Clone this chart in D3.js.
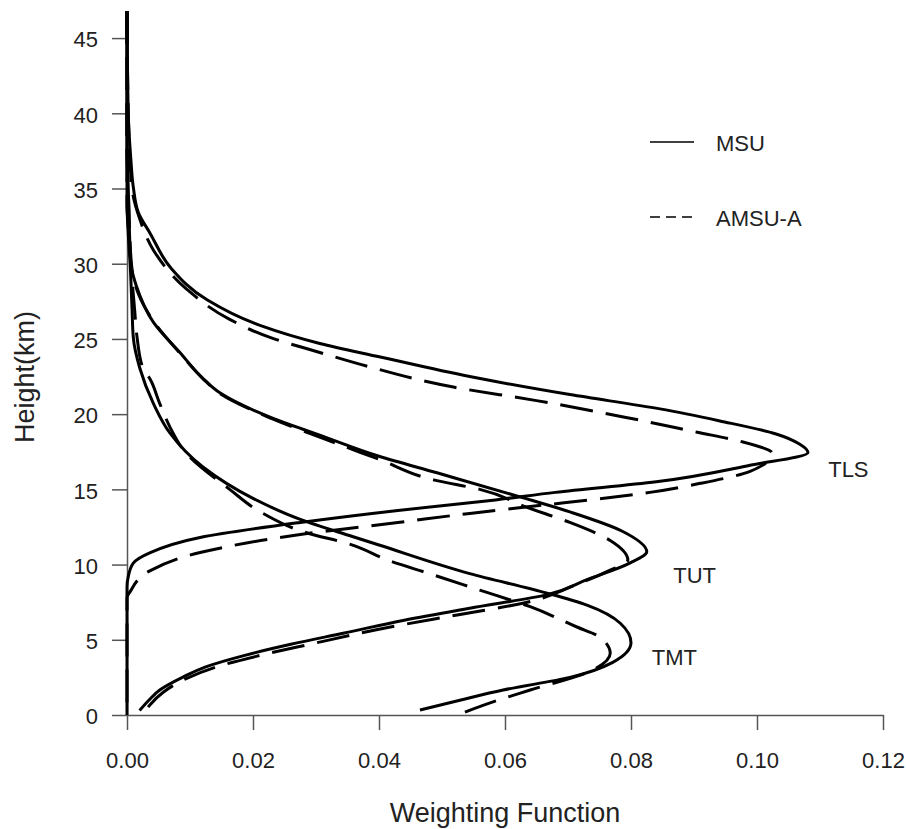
<!DOCTYPE html>
<html>
<head>
<meta charset="utf-8">
<script src="https://cdn.jsdelivr.net/npm/d3@7"></script>
<style>
  html, body { margin: 0; padding: 0; background: #fff; }
  svg { display: block; font-family: "Liberation Sans", Arial, sans-serif; }
</style>
</head>
<body>
<svg id="chart" width="906" height="829"></svg>
<script>
// ---- Data (weighting function vs height, km) ----
const xTicks = [0, 0.02, 0.04, 0.06, 0.08, 0.10, 0.12];
const xTickLabels = ["0.00", "0.02", "0.04", "0.06", "0.08", "0.10", "0.12"];
const yTicks = [0, 5, 10, 15, 20, 25, 30, 35, 40, 45];

const tlsMsuHeight = [46.8, 40, 37, 35.1, 33.4, 32.0, 29.7, 27.6, 25.9, 24.7, 23.8, 22.5, 21.3, 20.35, 19.55, 18.7, 18.0, 17.45, 16.6, 15.5, 14.8, 14.3, 13.6, 12.8, 11.8, 10.8, 10.1, 9.2, 8.5, 0];
const tlsMsuWeight = [0, 0.0002, 0.0006, 0.001, 0.0018, 0.0037, 0.007, 0.0127, 0.0211, 0.0306, 0.0402, 0.0544, 0.0703, 0.0846, 0.0941, 0.1029, 0.1068, 0.1081, 0.0989, 0.084, 0.068, 0.0585, 0.043, 0.0275, 0.0116, 0.0037, 0.001, 0.0002, 0, 0];

const tlsAmsuHeight = [46.8, 40, 35, 33, 30.9, 28.3, 26.3, 25.1, 24.1, 23.2, 21.8, 20.9, 19.8, 18.8, 18.2, 17.4, 16.2, 15.4, 14.8, 14.3, 14.0, 13.4, 12.8, 12.0, 10.8, 9.6, 8.2, 7.8, 0];
const tlsAmsuWeight = [0, 0.0002, 0.0008, 0.002, 0.0042, 0.0095, 0.0163, 0.0227, 0.0306, 0.038, 0.0518, 0.065, 0.079, 0.0905, 0.0973, 0.1024, 0.0989, 0.091, 0.083, 0.0735, 0.0671, 0.0544, 0.043, 0.0275, 0.0116, 0.0037, 0.0005, 0, 0];

const tutMsuHeight = [46.8, 38, 35, 32, 30.0, 28.5, 26.1, 24.1, 22.4, 21.4, 19.8, 18.6, 17.2, 16.1, 14.5, 13.5, 12.2, 10.85, 10.1, 9.0, 8.0, 7.1, 6.3, 5.45, 4.7, 4.0, 3.2, 2.5, 1.66, 1.0, 0.3];
const tutMsuWeight = [0, 0, 0.0002, 0.0004, 0.0006, 0.0015, 0.0042, 0.0084, 0.012, 0.0148, 0.0227, 0.0306, 0.040, 0.0492, 0.0624, 0.0703, 0.0787, 0.0825, 0.0798, 0.073, 0.0667, 0.0544, 0.044, 0.0345, 0.026, 0.019, 0.0125, 0.0088, 0.0052, 0.0035, 0.002];

const tutAmsuHeight = [46.8, 38, 35, 30, 28, 26, 24, 22.3, 21.3, 19.7, 18.4, 17.0, 15.6, 15.0, 13.8, 12.8, 11.6, 10.3, 9.5, 8.7, 7.45, 6.65, 5.85, 4.7, 3.9, 3.2, 2.4, 1.5, 0.7, 0];
const tutAmsuWeight = [0, 0, 0.0002, 0.0007, 0.0018, 0.0045, 0.0085, 0.0122, 0.015, 0.023, 0.031, 0.040, 0.049, 0.056, 0.0635, 0.0703, 0.0767, 0.0795, 0.076, 0.0715, 0.063, 0.0524, 0.0418, 0.029, 0.0205, 0.0142, 0.0093, 0.0057, 0.0037, 0.0025];

const tmtMsuHeight = [46.8, 34, 32, 30, 27, 25.1, 23.1, 20.7, 18.75, 16.5, 14.4, 13.0, 11.85, 11.3, 9.4, 8.1, 7.3, 6.1, 4.8, 3.5, 2.5, 1.66, 1.0, 0.33];
const tmtMsuWeight = [0, 0, 0.0002, 0.0005, 0.0008, 0.001, 0.002, 0.0042, 0.0068, 0.012, 0.020, 0.0275, 0.0359, 0.040, 0.0544, 0.0667, 0.073, 0.0783, 0.080, 0.0771, 0.0703, 0.0597, 0.053, 0.0465];

const tmtAmsuHeight = [46.8, 34, 32, 30, 27, 25.1, 23.1, 22.3, 20.7, 18.75, 17.6, 15.0, 13.4, 12.1, 11.4, 10.2, 9.4, 8.3, 7.2, 5.85, 5.2, 4.1, 3.0, 1.66, 1.0, 0];
const tmtAmsuWeight = [0, 0, 0.0003, 0.0006, 0.0012, 0.0016, 0.0025, 0.0037, 0.0052, 0.0073, 0.009, 0.0163, 0.0216, 0.0286, 0.035, 0.042, 0.048, 0.056, 0.064, 0.0714, 0.075, 0.0767, 0.074, 0.064, 0.059, 0.0524];

const seriesNames = ["MSU", "AMSU-A"];
const channelLabels = ["TLS", "TUT", "TMT"];
const channelLabelHeights = [15.8, 8.8, 3.3];
const channelLabelWeights = [0.1113, 0.0867, 0.0833];

// ---- Layout ----
const svg = d3.select("#chart");
svg.append("rect").attr("width", 906).attr("height", 829).attr("fill", "#fff");

const x = d3.scaleLinear().domain([0, 0.12]).range([127, 883]);
const y = d3.scaleLinear().domain([0, 47]).range([715, 8]);

const axisColor = "#555";
const textColor = "#222";

// X axis
const gx = svg.append("g").attr("transform", `translate(0,${y(0)})`)
  .call(d3.axisBottom(x).tickValues(xTicks).tickFormat((d, i) => xTickLabels[i]).tickSize(15).tickSizeOuter(0));
gx.select(".domain").attr("stroke", axisColor).attr("stroke-width", 1.5);
gx.selectAll(".tick line").attr("stroke", axisColor).attr("stroke-width", 1.5);
gx.selectAll(".tick text").attr("y", 53).attr("dy", null)
  .attr("font-size", 22).attr("fill", textColor).attr("font-family", "Liberation Sans, Arial, sans-serif");

// Y axis
const gy = svg.append("g").attr("transform", `translate(${x(0)},0)`)
  .call(d3.axisLeft(y.copy().domain([0, 45]).range([y(0), y(45)])).tickValues(yTicks).tickSize(15).tickSizeOuter(0));
gy.select(".domain").attr("stroke", axisColor).attr("stroke-width", 1.5);
gy.selectAll(".tick line").attr("stroke", axisColor).attr("stroke-width", 1.5);
gy.selectAll(".tick text").attr("x", -29).attr("dy", "0.4em")
  .attr("font-size", 22).attr("fill", textColor).attr("font-family", "Liberation Sans, Arial, sans-serif");

// Axis titles
svg.append("text").attr("x", 505).attr("y", 822).attr("text-anchor", "middle")
  .attr("font-size", 27).attr("fill", textColor).text("Weighting Function");
svg.append("text").attr("transform", "translate(34,377) rotate(-90)").attr("text-anchor", "middle")
  .attr("font-size", 27).attr("fill", textColor).text("Height(km)");

// Curves (sorted by height so a monotone-in-y spline can be used)
const line = d3.line().x(d => x(d[0])).y(d => y(d[1])).curve(d3.curveMonotoneY);
const curves = [
  { w: tlsMsuWeight, h: tlsMsuHeight, dashed: false },
  { w: tlsAmsuWeight, h: tlsAmsuHeight, dashed: true },
  { w: tutMsuWeight, h: tutMsuHeight, dashed: false },
  { w: tutAmsuWeight, h: tutAmsuHeight, dashed: true },
  { w: tmtMsuWeight, h: tmtMsuHeight, dashed: false },
  { w: tmtAmsuWeight, h: tmtAmsuHeight, dashed: true }
];
curves.forEach(c => {
  const pts = c.w.map((w, i) => [w, c.h[i]]).sort((a, b) => b[1] - a[1]);
  svg.append("path").attr("d", line(pts)).attr("fill", "none").attr("stroke", "#000")
    .attr("stroke-width", 3).attr("stroke-linejoin", "round")
    .attr("stroke-dasharray", c.dashed ? "33,13" : null);
});

// Channel labels
channelLabels.forEach((lab, i) => {
  svg.append("text").attr("x", x(channelLabelWeights[i])).attr("y", y(channelLabelHeights[i]))
    .attr("font-size", 22).attr("fill", textColor).text(lab);
});

// Legend
const legendY = [142, 217];
seriesNames.forEach((name, i) => {
  svg.append("line").attr("x1", 650).attr("x2", 694).attr("y1", legendY[i]).attr("y2", legendY[i])
    .attr("stroke", "#000").attr("stroke-width", 1.5)
    .attr("stroke-dasharray", i === 1 ? "10,6" : null);
  svg.append("text").attr("x", 716).attr("y", legendY[i] + 9).attr("font-size", 22)
    .attr("fill", textColor).text(name);
});
</script>
</body>
</html>
